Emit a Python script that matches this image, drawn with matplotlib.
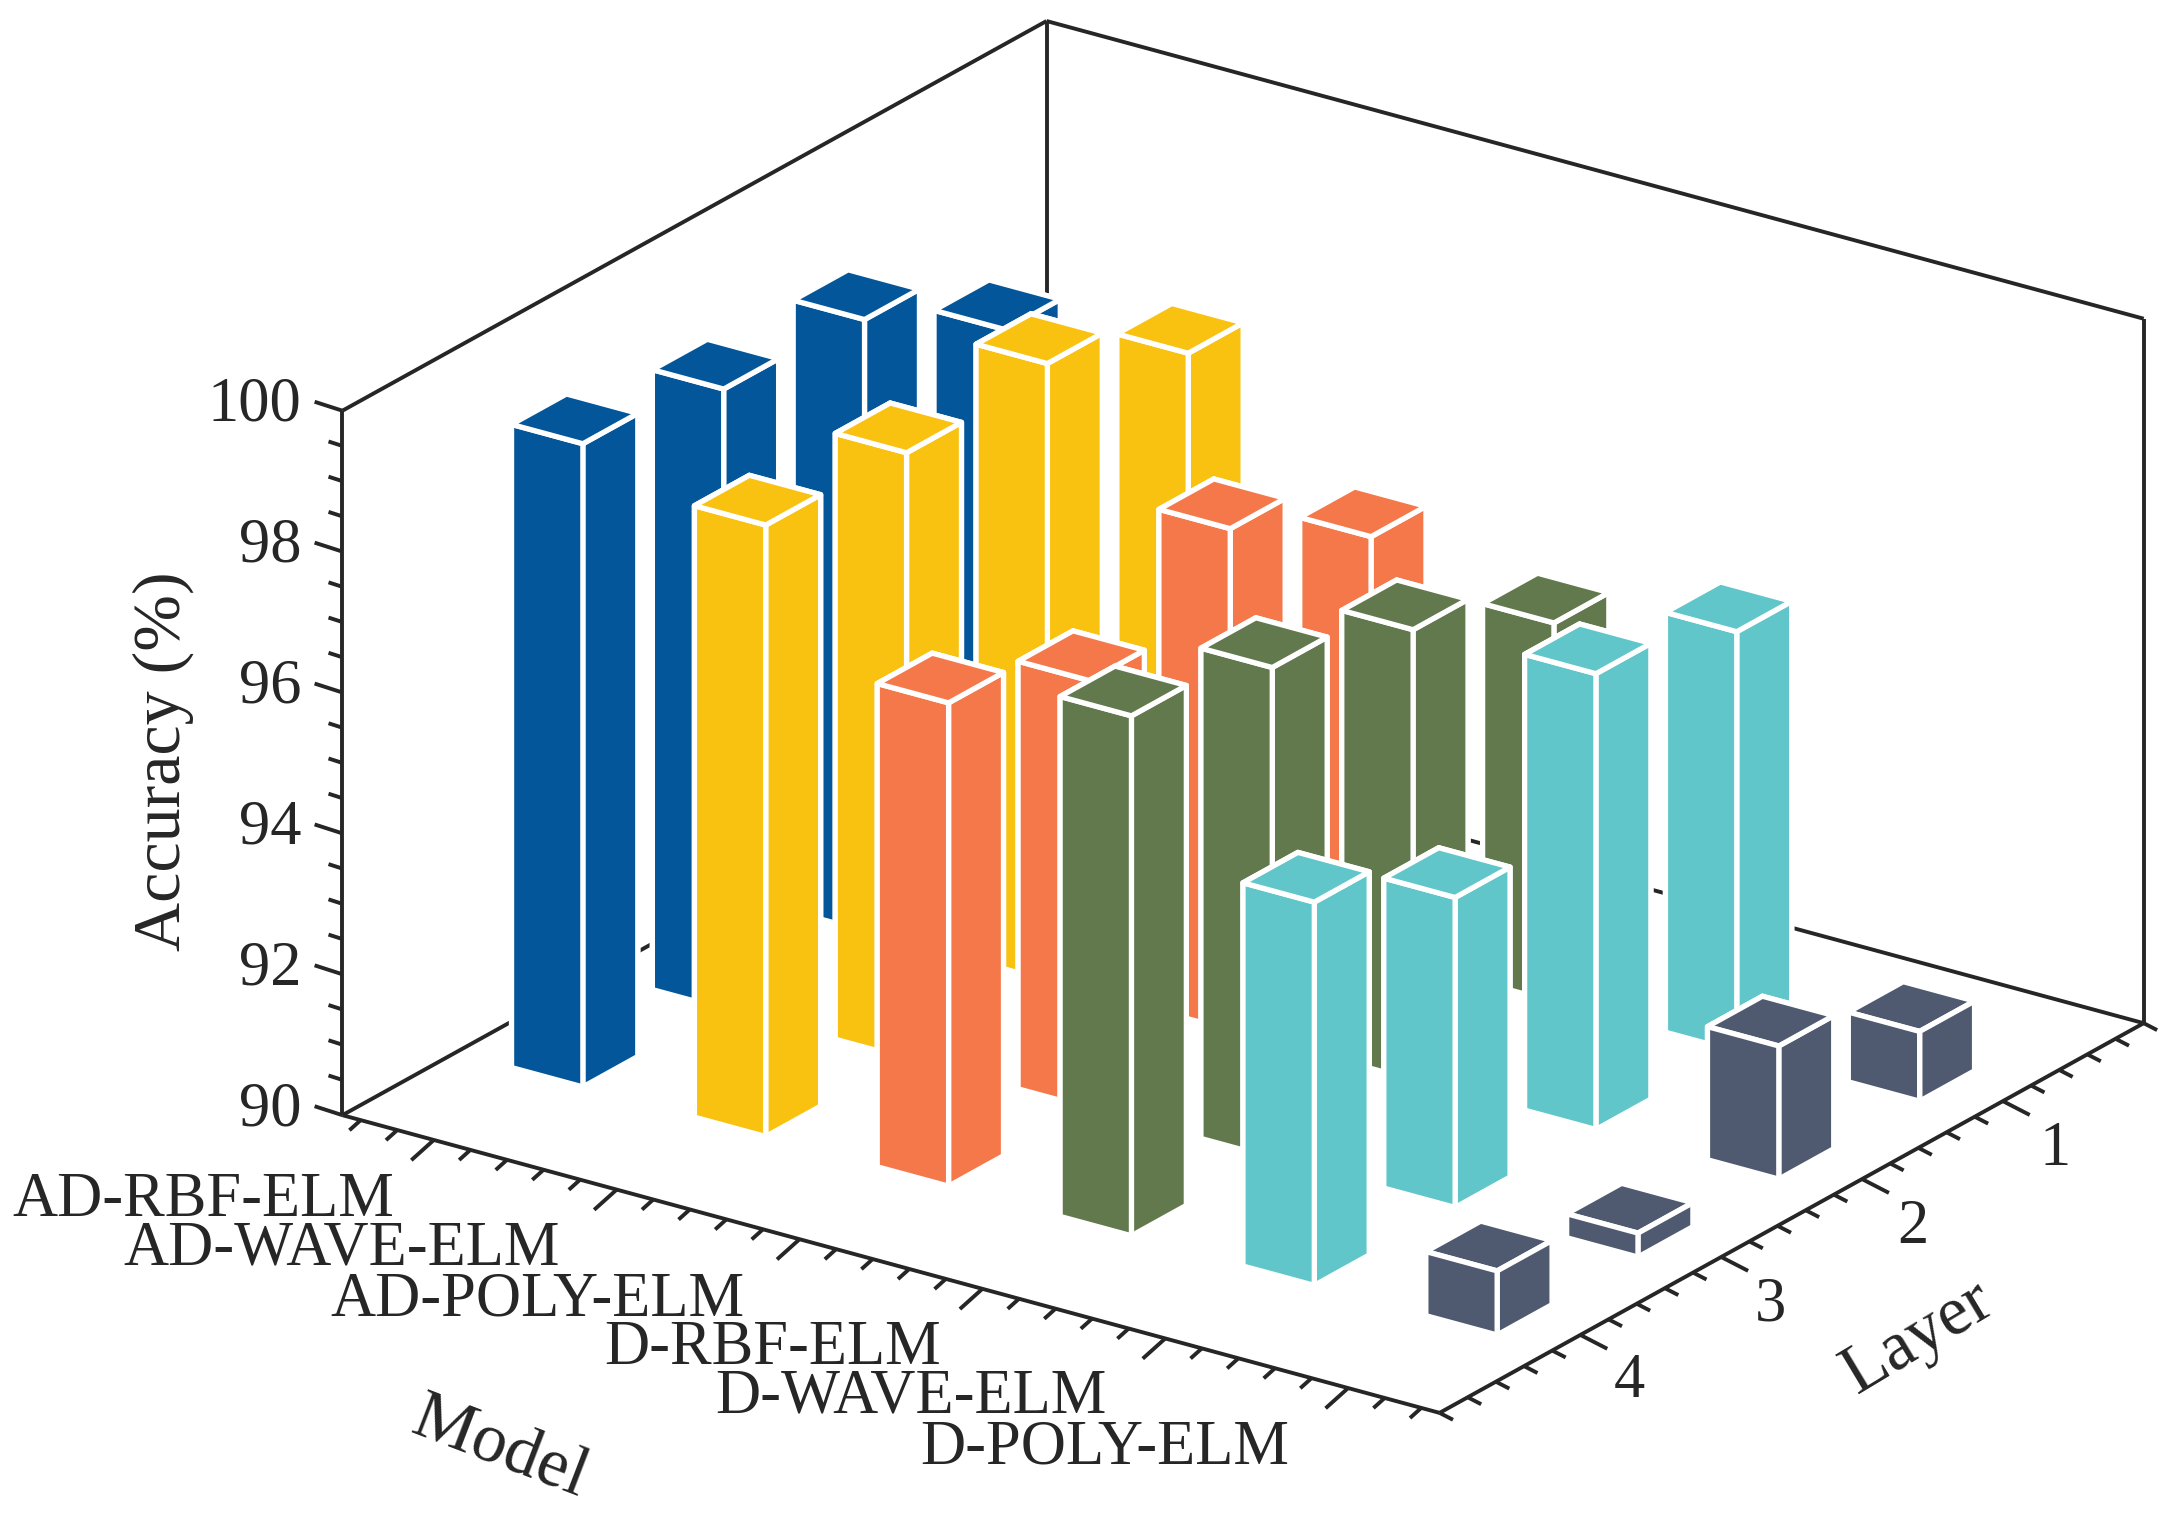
#!/usr/bin/env python3
import numpy as np
import matplotlib
matplotlib.use("Agg")
import matplotlib.pyplot as plt

plt.rcParams['font.family'] = ['Liberation Serif', 'DejaVu Serif']

models = ['AD-RBF-ELM', 'AD-WAVE-ELM', 'AD-POLY-ELM', 'D-RBF-ELM', 'D-WAVE-ELM', 'D-POLY-ELM']
layers = [1, 2, 3, 4]
colors = ['#035699', '#FAC210', '#F5784A', '#62784D', '#60C6CA', '#4F5A70']

# accuracy per layer 1..4
ad_rbf = [97.43, 98.68, 98.80, 99.13]
ad_wave = [97.80, 98.76, 98.60, 98.68]
ad_poly = [95.90, 97.12, 96.07, 96.86]
d_rbf = [95.38, 96.39, 96.96, 97.38]
d_wave = [95.96, 96.47, 94.40, 95.44]
d_poly = [90.99, 91.89, 90.34, 90.91]
accuracy = [ad_rbf, ad_wave, ad_poly, d_rbf, d_wave, d_poly]

W, H = 2169, 1521
line_color = '#262626'
bar_w = 0.39

fig = plt.figure(figsize=(W / 100, H / 100), dpi=100, facecolor='white')
ax = fig.add_axes([138 / W, 23 / H, 1, 1], projection='3d', proj_type='ortho', computed_zorder=False)
ax.view_init(elev=22.8, azim=-55.0)
ax.set_box_aspect((971, 890, 554), zoom=1.258)
ax.set_xlim(0.5, 6.5)
ax.set_ylim(5, 0)
ax.set_zlim(90, 100)
ax.set_axis_off()


def seg(x, y, z, lw=2.8):
    ax.plot(x, y, z, color=line_color, lw=lw, solid_capstyle='butt', zorder=1, clip_on=False)


# box frame
seg([0.5, 0.5], [5, 5], [90, 100])
seg([0.5, 0.5], [5, 0], [100, 100])
seg([0.5, 6.5], [0, 0], [100, 100])
seg([0.5, 0.5], [0, 0], [90, 100])
seg([6.5, 6.5], [0, 0], [90, 100])
seg([0.5, 0.5], [5, 0], [90, 90])
seg([0.5, 6.5], [0, 0], [90, 90])
seg([0.5, 6.5], [5, 5], [90, 90])
seg([6.5, 6.5], [5, 0], [90, 90])

# ticks, major ones twice as long
for v in np.arange(0.6, 6.45, 0.2):
    k = 1.0 if abs(v - round(v)) < 0.01 else 0.5
    seg([v, v], [5, 5 + 0.16 * k], [90, 90 - 0.11 * k])
for v in np.arange(0, 5.05, 0.2):
    k = 1.0 if abs(v - round(v)) < 0.01 and 1 <= v <= 4 else 0.5
    seg([6.5, 6.5 + 0.147 * k], [v, v], [90, 90 - 0.093 * k])
for v in np.arange(90, 100.1, 0.5):
    k = 1.0 if abs(v / 2 - round(v / 2)) < 0.01 else 0.5
    seg([0.5, 0.5 - 0.152 * k], [5, 5], [v, v + 0.02 * k])

# bars, painted back to front
order = 10
for j, layer in enumerate(layers):
    for i in range(len(models)):
        ax.bar3d(i + 1 - bar_w / 2, layer - bar_w / 2, 90, bar_w, bar_w, accuracy[i][j] - 90,
                 color=colors[i], edgecolor='white', linewidth=3.8, shade=False, zorder=order)
        order += 1


def label(x, y, s, **kw):
    # x, y are pixels in the 1568 wide view of the figure
    fig.text(x * W / 1568 / W, 1 - y * W / 1568 / H, s, color=line_color, **kw)


z_ticks = [90, 92, 94, 96, 98, 100]
z_label_y = [803, 701, 599, 497, 395, 293]
for t, y in zip(z_ticks, z_label_y):
    label(218, y, str(t), fontsize=45, ha='right', va='center')

model_right = [285, 405, 538, 680, 800, 932]
model_y = [868, 903, 940, 975, 1010, 1047]
for m, x, y in zip(models, model_right, model_y):
    label(x, y, m, fontsize=45, ha='right', va='center')

layer_x = [1486, 1383, 1280, 1178]
layer_y = [831, 888, 944, 999]
for n, x, y in zip(layers, layer_x, layer_y):
    label(x, y, str(n), fontsize=45, ha='center', va='center')

label(118, 550, 'Accuracy (%)', fontsize=49, rotation=90, ha='center', va='center')
label(361, 1047, 'Model', fontsize=50, rotation=-21, ha='center', va='center', rotation_mode='anchor')
label(1387, 967, 'Layer', fontsize=50, rotation=31, ha='center', va='center', rotation_mode='anchor')

fig.savefig('out.png', dpi=100, facecolor='white')
